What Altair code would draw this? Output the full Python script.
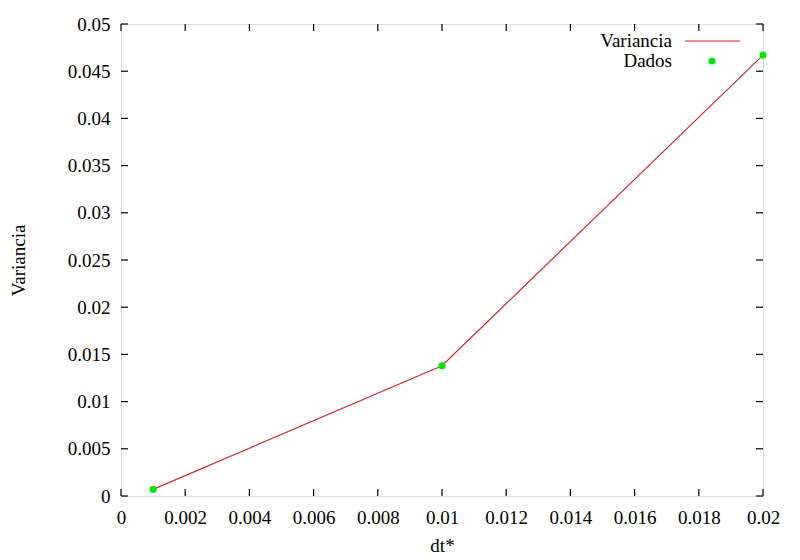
import altair as alt
import pandas as pd

dt = [0.001, 0.01, 0.02]
variancia = [0.0007, 0.0138, 0.0467]
x_ticks = [0, 0.002, 0.004, 0.006, 0.008, 0.01, 0.012, 0.014, 0.016, 0.018, 0.02]
y_ticks = [0, 0.005, 0.01, 0.015, 0.02, 0.025, 0.03, 0.035, 0.04, 0.045, 0.05]
legend_labels = ["Variancia", "Dados"]

W, H = 642, 472
FONT = "Liberation Serif"
RED = "#d42a2a"
GREEN = "#00e800"

df = pd.DataFrame({"dt": dt, "v": variancia})
xt = pd.DataFrame({"t": x_ticks})
yt = pd.DataFrame({"t": y_ticks})

xs = alt.Scale(domain=[0, 0.02], nice=False, zero=False)
ys = alt.Scale(domain=[0, 0.05], nice=False, zero=False)

x_axis = alt.Axis(values=x_ticks, format="~g", title="dt*", grid=False, ticks=False,
                  tickSize=0, domain=False, labelFont=FONT, labelFontSize=19,
                  labelColor="black", labelPadding=12, labelFlush=False,
                  labelOverlap=False, titleFont=FONT,
                  titleFontSize=19, titleFontWeight="normal", titleColor="black",
                  titlePadding=9)
y_axis = alt.Axis(values=y_ticks, format="~g", title="Variancia", grid=False, ticks=False,
                  tickSize=0, domain=False, labelFont=FONT, labelFontSize=19,
                  labelColor="black", labelPadding=11, labelFlush=False,
                  labelOverlap=False, titleFont=FONT,
                  titleFontSize=19, titleFontWeight="normal", titleColor="black",
                  titlePadding=39)

line = alt.Chart(df).mark_line(color=RED, strokeWidth=1.2).encode(
    x=alt.X("dt:Q", scale=xs, axis=x_axis),
    y=alt.Y("v:Q", scale=ys, axis=y_axis),
)
pts = alt.Chart(df).mark_circle(color=GREEN, opacity=1, size=50).encode(
    x=alt.X("dt:Q", scale=xs),
    y=alt.Y("v:Q", scale=ys),
)

TL = 7
xb = alt.Chart(xt).mark_rule(color="black", strokeWidth=1.2).encode(
    x=alt.X("t:Q", scale=xs), y=alt.value(H), y2=alt.value(H - TL))
xtp = alt.Chart(xt).mark_rule(color="black", strokeWidth=1.2).encode(
    x=alt.X("t:Q", scale=xs), y=alt.value(0), y2=alt.value(TL))
yl = alt.Chart(yt).mark_rule(color="black", strokeWidth=1.2).encode(
    y=alt.Y("t:Q", scale=ys), x=alt.value(0), x2=alt.value(TL))
yr = alt.Chart(yt).mark_rule(color="black", strokeWidth=1.2).encode(
    y=alt.Y("t:Q", scale=ys), x=alt.value(W), x2=alt.value(W - TL))

leg = pd.DataFrame({"label": legend_labels})
leg_text1 = alt.Chart(leg.iloc[[0]]).mark_text(
    font=FONT, fontSize=19, align="right", baseline="middle", color="black"
).encode(text="label:N", x=alt.value(551), y=alt.value(17))
leg_text2 = alt.Chart(leg.iloc[[1]]).mark_text(
    font=FONT, fontSize=19, align="right", baseline="middle", color="black"
).encode(text="label:N", x=alt.value(551), y=alt.value(37))
leg_line = alt.Chart(leg.iloc[[0]]).mark_rule(color=RED, strokeWidth=1.2).encode(
    x=alt.value(564), x2=alt.value(619), y=alt.value(17))
leg_pt = alt.Chart(leg.iloc[[1]]).mark_circle(color=GREEN, opacity=1, size=50).encode(
    x=alt.value(591), y=alt.value(37))

chart = alt.layer(line, xb, xtp, yl, yr, pts, leg_line, leg_pt, leg_text1, leg_text2).properties(
    width=W, height=H,
    autosize=alt.AutoSizeParams(type="none"),
    padding={"left": 113, "top": 16, "right": 29, "bottom": 64},
).configure_view(stroke="black", strokeWidth=1.5).configure(background="white")

chart.save("out.html", embed_options={"renderer": "svg", "actions": False})
